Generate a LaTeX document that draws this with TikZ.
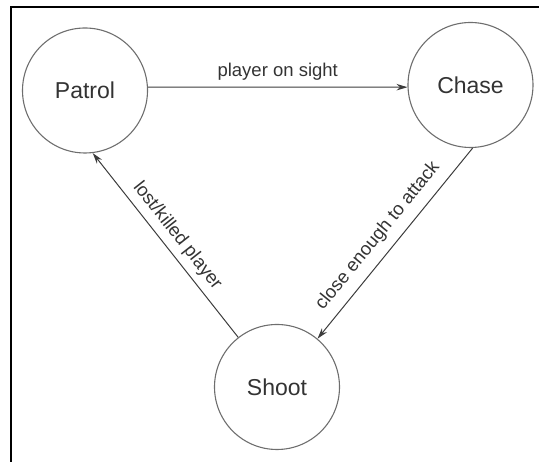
\documentclass[tikz,border=0pt]{standalone}
\usepackage{fontspec}
\setmainfont{Liberation Sans}
\usetikzlibrary{arrows.meta}
\definecolor{circlecol}{HTML}{6E6E6E}
\definecolor{linecol}{HTML}{3C3C3C}
\definecolor{textcol}{HTML}{333333}
\tikzset{
  statenode/.style={circle, draw=circlecol, line width=1.1pt, inner sep=0pt,
    minimum size=125pt, text=textcol, font=\fontsize{23}{26}\selectfont},
  trans/.style={draw=linecol, line width=1pt, -{Stealth[length=11pt,width=6.5pt]}},
  translabel/.style={text=textcol, font=\fontsize{18.5}{21}\selectfont, inner sep=0pt},
  framecol/.style={draw=black, line width=1.4pt}
}
\begin{document}
\begin{tikzpicture}[x=1pt,y=1pt]
\useasboundingbox (0,0) rectangle (539,462);
\coordinate (ftr) at (539,455);
\coordinate (ftl) at (11,455);
\coordinate (fbl) at (11,0);
\draw[framecol] (ftr) -- (ftl) -- (fbl);
\node[statenode] (patrol) at (85,371.5) {Patrol};
\node[statenode] (chase) at (470.5,377) {Chase};
\node[statenode] (shoot) at (277,75) {Shoot};
\draw[trans] (patrol.3) -- node[translabel, midway, above=6pt] {player on sight} (chase.182);
\draw[trans] (chase.272) -- node[translabel, pos=0.52, sloped, above=9pt] {close enough to attack} (shoot.50);
\draw[trans] (shoot.128) -- node[translabel, midway, sloped, above=6pt] {lost/killed player} (patrol.277);
\end{tikzpicture}
\end{document}
